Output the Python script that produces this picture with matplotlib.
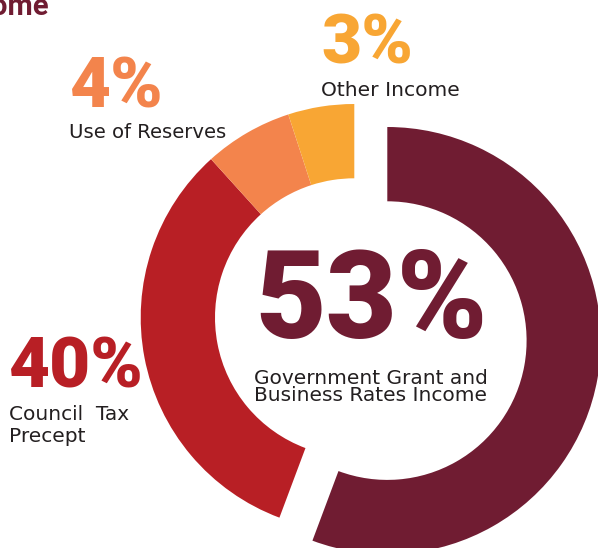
import matplotlib
matplotlib.use("Agg")
import matplotlib.pyplot as plt
from matplotlib import font_manager as fm

# shares as labelled, and the arc sizes as they are actually drawn (%)
categories = ["Government Grant and\nBusiness Rates Income", "Council  Tax\nPrecept",
              "Use of Reserves", "Other Income"]
pct_labels = ["53%", "40%", "4%", "3%"]
arc_sizes = [55.7, 32.6, 6.7, 5.0]
colors = ["#701c32", "#b81f25", "#f3844c", "#f8a634"]
text_dark = "#231f20"

W, H = 598, 548

installed = {f.name for f in fm.fontManager.ttflist}
if "Liberation Sans Narrow" in installed:
    big_font = "Liberation Sans Narrow"
elif "Roboto" in installed:
    big_font = "Roboto"
else:
    big_font = "Liberation Sans"
lbl_font = "DejaVu Sans"

fig = plt.figure(figsize=(W / 100, H / 100), dpi=100)
ax = fig.add_axes([0, 0, 1, 1])

def py(y):
    # picture y (from top) -> data y
    return H - y

cx, cy = 354.3, py(317.6)
R, ring = 213.6, 74.3

wedges, _ = ax.pie(arc_sizes, colors=colors, startangle=90, counterclock=False,
                   radius=R, center=(cx, cy),
                   wedgeprops=dict(width=ring, linewidth=0))
# the big slice is pulled out to the lower right
wedges[0].set_center((cx + 33, cy - 23))

ax.set_xlim(0, W)
ax.set_ylim(0, H)
ax.set_aspect("auto")
ax.axis("off")

# cut-off title at the top left (as in the source image)
ax.text(50, py(15), "Income", ha="right", va="baseline", fontsize=21,
        fontweight="bold", family=big_font, color=colors[0])

# centre label
ax.text(371.5, py(338), pct_labels[0], ha="center", va="baseline", fontsize=88,
        fontweight="heavy", family=big_font, color=colors[0])
line1, line2 = categories[0].split("\n")
ax.text(371, py(383.5), line1, ha="center", va="baseline", fontsize=14.5,
        family=lbl_font, color=text_dark)
ax.text(371, py(401), line2, ha="center", va="baseline", fontsize=14.5,
        family=lbl_font, color=text_dark)

# Council tax
ax.text(9, py(387), pct_labels[1], ha="left", va="baseline", fontsize=51,
        fontweight="heavy", family=big_font, color=colors[1])
ct1, ct2 = categories[1].split("\n")
ax.text(9, py(420), ct1, ha="left", va="baseline", fontsize=14.5,
        family=lbl_font, color=text_dark)
ax.text(9, py(441.7), ct2, ha="left", va="baseline", fontsize=14.5,
        family=lbl_font, color=text_dark)

# Use of reserves
ax.text(70, py(108), pct_labels[2], ha="left", va="baseline", fontsize=51,
        fontweight="heavy", family=big_font, color=colors[2])
ax.text(69, py(138.3), categories[2], ha="left", va="baseline", fontsize=14.1,
        family=lbl_font, color=text_dark)

# Other income
ax.text(321, py(64), pct_labels[3], ha="left", va="baseline", fontsize=50,
        fontweight="heavy", family=big_font, color=colors[3])
ax.text(321, py(96), categories[3], ha="left", va="baseline", fontsize=14.6,
        family=lbl_font, color=text_dark)

fig.savefig("out.png", dpi=100)
